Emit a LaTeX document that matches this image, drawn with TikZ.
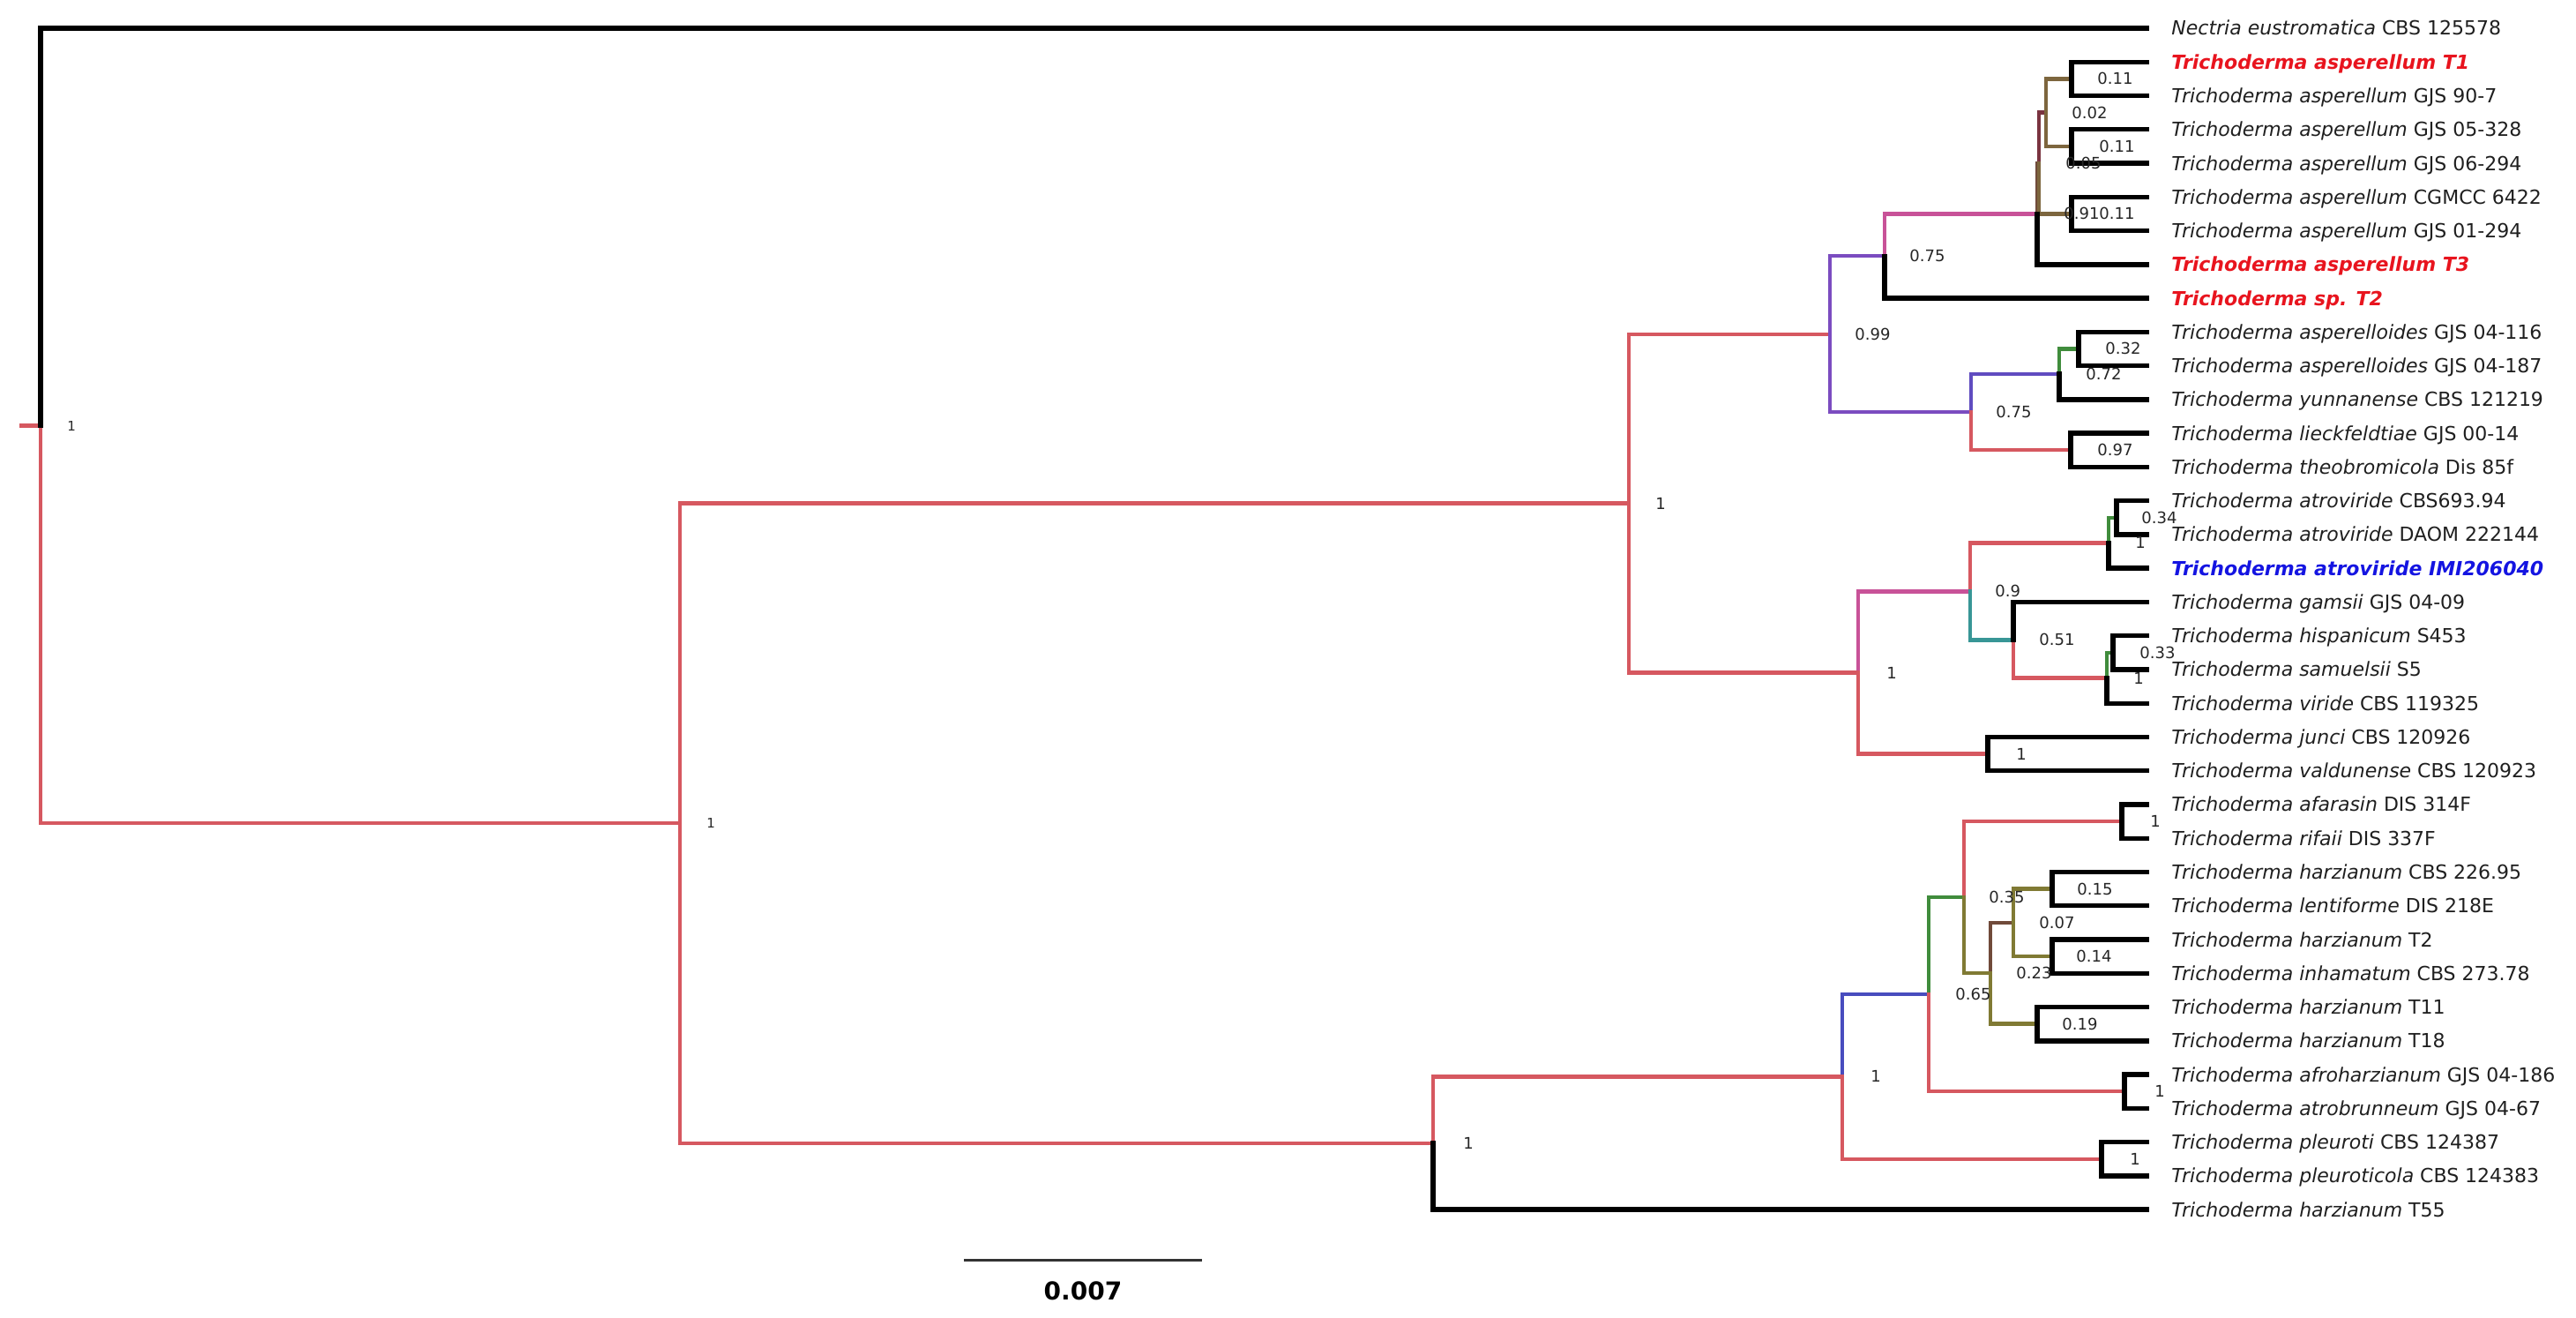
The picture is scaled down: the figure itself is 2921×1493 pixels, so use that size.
\documentclass[tikz,border=0pt]{standalone}
\usepackage{fontspec}
\setmainfont{DejaVu Sans}
\definecolor{tred}{RGB}{214,88,96}
\definecolor{tpurple}{RGB}{123,76,192}
\definecolor{tbpurple}{RGB}{96,76,192}
\definecolor{tmag}{RGB}{200,82,152}
\definecolor{tteal}{RGB}{56,150,150}
\definecolor{tgreen}{RGB}{64,140,60}
\definecolor{tblue}{RGB}{72,76,190}
\definecolor{tolive}{RGB}{128,122,52}
\definecolor{tbrown}{RGB}{112,74,58}
\definecolor{tmaroon}{RGB}{122,52,64}
\definecolor{tolbr}{RGB}{125,102,62}
\definecolor{hlred}{RGB}{232,20,30}
\definecolor{hlblue}{RGB}{20,20,225}
\begin{document}
\begin{tikzpicture}[x=0.5pt,y=-0.5pt,
  br/.style={line width=2.2pt,line cap=rect,line join=miter},
  lf/.style={line width=2.7pt,line cap=rect,line join=miter,black},
  leaf/.style={anchor=west,inner sep=0pt,text height=8pt,text depth=0pt,font=\fontsize{11}{13}\selectfont,text=black!88},
  hlr/.style={leaf,font=\fontsize{11}{13}\selectfont\bfseries\itshape,text=hlred},
  hlb/.style={leaf,font=\fontsize{11}{13}\selectfont\bfseries\itshape,text=hlblue},
  sup/.style={anchor=west,inner sep=0pt,text height=6.5pt,text depth=0pt,font=\fontsize{9}{11}\selectfont,text=black!85},
  supsm/.style={sup,text height=5.5pt,font=\fontsize{7.5}{9}\selectfont}]
\useasboundingbox (0,0) rectangle (2921,1493);

% leaf tips
\foreach \i in {0,...,35} \coordinate (t\i) at (2434,{32+38.26*\i});

% internal nodes
\coordinate (stub) at (24,482.6);
\coordinate (root) at (46,482.6);
\coordinate (A) at (771,933.2);
\coordinate (B) at (1847,570.63);
\coordinate (C) at (2075,378.73);
\coordinate (D) at (2137,290.26);
\coordinate (E) at (2310,242.43);
\coordinate (FG) at (2312,185.04);
\coordinate (F) at (2320,127.65);
\coordinate (F1) at (2349,89.39);
\coordinate (F2) at (2349,165.91);
\coordinate (G) at (2349,242.43);
\coordinate (LL) at (2235,467.21);
\coordinate (AS) at (2335,424.17);
\coordinate (AP) at (2357,395.47);
\coordinate (LI) at (2348,510.25);
\coordinate (H) at (2107,762.53);
\coordinate (I) at (2234,670.47);
\coordinate (J) at (2391,615.47);
\coordinate (L) at (2400,586.77);
\coordinate (K) at (2283,725.46);
\coordinate (M) at (2389,768.5);
\coordinate (N) at (2396,739.81);
\coordinate (O) at (2254,854.59);
\coordinate (P) at (1625,1295.78);
\coordinate (Q) at (2089,1220.45);
\coordinate (R) at (2187,1127.2);
\coordinate (T) at (2227,1017.2);
\coordinate (V) at (2406,931.11);
\coordinate (W) at (2257,1103.28);
\coordinate (Y) at (2283,1045.89);
\coordinate (X) at (2327,1007.63);
\coordinate (Z) at (2327,1084.15);
\coordinate (AA) at (2310,1160.67);
\coordinate (U) at (2409,1237.19);
\coordinate (S) at (2383,1313.71);

% coloured branches
\draw[br,tred] (stub) -- (root);
\draw[br,tred] (root) |- (A);
\draw[br,tred] (A) |- (B);
\draw[br,tred] (A) |- (P);
\draw[br,tred] (B) |- (C);
\draw[br,tred] (B) |- (H);
\draw[br,tpurple] (C) |- (D);
\draw[br,tpurple] (C) |- (LL);
\draw[br,tmag] (D) |- (E);
\draw[br,tbrown] (E) |- (FG);
\draw[br,tmaroon] (FG) |- (F);
\draw[br,tolbr] (FG) |- (G);
\draw[br,tolbr] (F) |- (F1);
\draw[br,tolbr] (F) |- (F2);
\draw[br,tbpurple] (LL) |- (AS);
\draw[br,tred] (LL) |- (LI);
\draw[br,tgreen] (AS) |- (AP);
\draw[br,tmag] (H) |- (I);
\draw[br,tred] (H) |- (O);
\draw[br,tred] (I) |- (J);
\draw[br,tteal] (I) |- (K);
\draw[br,tgreen] (J) |- (L);
\draw[br,tred] (K) |- (M);
\draw[br,tgreen] (M) |- (N);
\draw[br,tred] (P) |- (Q);
\draw[br,tblue] (Q) |- (R);
\draw[br,tred] (Q) |- (S);
\draw[br,tgreen] (R) |- (T);
\draw[br,tred] (R) |- (U);
\draw[br,tred] (T) |- (V);
\draw[br,tolive] (T) |- (W);
\draw[br,tbrown] (W) |- (Y);
\draw[br,tolive] (W) |- (AA);
\draw[br,tolive] (Y) |- (X);
\draw[br,tolive] (Y) |- (Z);

% black branches to leaves
\draw[lf] (root) |- (t0);
\draw[lf] (F1) |- (t1) (F1) |- (t2);
\draw[lf] (F2) |- (t3) (F2) |- (t4);
\draw[lf] (G) |- (t5) (G) |- (t6);
\draw[lf] (E) |- (t7);
\draw[lf] (D) |- (t8);
\draw[lf] (AP) |- (t9) (AP) |- (t10);
\draw[lf] (AS) |- (t11);
\draw[lf] (LI) |- (t12) (LI) |- (t13);
\draw[lf] (L) |- (t14) (L) |- (t15);
\draw[lf] (J) |- (t16);
\draw[lf] (K) |- (t17);
\draw[lf] (N) |- (t18) (N) |- (t19);
\draw[lf] (M) |- (t20);
\draw[lf] (O) |- (t21) (O) |- (t22);
\draw[lf] (V) |- (t23) (V) |- (t24);
\draw[lf] (X) |- (t25) (X) |- (t26);
\draw[lf] (Z) |- (t27) (Z) |- (t28);
\draw[lf] (AA) |- (t29) (AA) |- (t30);
\draw[lf] (U) |- (t31) (U) |- (t32);
\draw[lf] (S) |- (t33) (S) |- (t34);
\draw[lf] (P) |- (t35);

% support values
\node[supsm] (sroot) at ([xshift=15pt]root) {1};
\node[supsm] (sA) at ([xshift=15pt]A) {1};
\node[sup] (sB) at ([xshift=15pt]B) {1};
\node[sup] (sC) at ([xshift=14pt]C) {0.99};
\node[sup] (sD) at ([xshift=14pt]D) {0.75};
\node[sup] (sE) at ([xshift=15pt]E) {0.91};
\node[sup] (sFG) at ([xshift=15pt]FG) {0.05};
\node[sup] (sF) at ([xshift=14.5pt]F) {0.02};
\node[sup] (sF1) at ([xshift=14.5pt]F1) {0.11};
\node[sup] (sF2) at ([xshift=15.5pt]F2) {0.11};
\node[sup] (sG) at ([xshift=15.5pt]G) {0.11};
\node[sup] (sLL) at ([xshift=14pt]LL) {0.75};
\node[sup] (sAS) at ([xshift=15pt]AS) {0.72};
\node[sup] (sAP) at ([xshift=15pt]AP) {0.32};
\node[sup] (sLI) at ([xshift=15pt]LI) {0.97};
\node[sup] (sH) at ([xshift=16pt]H) {1};
\node[sup] (sI) at ([xshift=14pt]I) {0.9};
\node[sup] (sJ) at ([xshift=15pt]J) {1};
\node[sup] (sL) at ([xshift=14pt]L) {0.34};
\node[sup] (sK) at ([xshift=14.5pt]K) {0.51};
\node[sup] (sM) at ([xshift=15pt]M) {1};
\node[sup] (sN) at ([xshift=15pt]N) {0.33};
\node[sup] (sO) at ([xshift=16pt]O) {1};
\node[sup] (sP) at ([xshift=17pt]P) {1};
\node[sup] (sQ) at ([xshift=16pt]Q) {1};
\node[sup] (sR) at ([xshift=15pt]R) {0.65};
\node[sup] (sT) at ([xshift=14pt]T) {0.35};
\node[sup] (sW) at ([xshift=14.5pt]W) {0.23};
\node[sup] (sY) at ([xshift=14.5pt]Y) {0.07};
\node[sup] (sX) at ([xshift=14pt]X) {0.15};
\node[sup] (sZ) at ([xshift=13.5pt]Z) {0.14};
\node[sup] (sAA) at ([xshift=14pt]AA) {0.19};
\node[sup] (sV) at ([xshift=16pt]V) {1};
\node[sup] (sU) at ([xshift=17pt]U) {1};
\node[sup] (sS) at ([xshift=16pt]S) {1};

% leaf labels
\node[leaf] (l0) at ([xshift=14pt]t0) {\textit{Nectria eustromatica} CBS 125578};
\node[hlr] (l1) at ([xshift=14pt]t1) {Trichoderma asperellum T1};
\node[leaf] (l2) at ([xshift=14pt]t2) {\textit{Trichoderma asperellum} GJS 90-7};
\node[leaf] (l3) at ([xshift=14pt]t3) {\textit{Trichoderma asperellum} GJS 05-328};
\node[leaf] (l4) at ([xshift=14pt]t4) {\textit{Trichoderma asperellum} GJS 06-294};
\node[leaf] (l5) at ([xshift=14pt]t5) {\textit{Trichoderma asperellum} CGMCC 6422};
\node[leaf] (l6) at ([xshift=14pt]t6) {\textit{Trichoderma asperellum} GJS 01-294};
\node[hlr] (l7) at ([xshift=14pt]t7) {Trichoderma asperellum T3};
\node[hlr] (l8) at ([xshift=14pt]t8) {Trichoderma sp. T2};
\node[leaf] (l9) at ([xshift=14pt]t9) {\textit{Trichoderma asperelloides} GJS 04-116};
\node[leaf] (l10) at ([xshift=14pt]t10) {\textit{Trichoderma asperelloides} GJS 04-187};
\node[leaf] (l11) at ([xshift=14pt]t11) {\textit{Trichoderma yunnanense} CBS 121219};
\node[leaf] (l12) at ([xshift=14pt]t12) {\textit{Trichoderma lieckfeldtiae} GJS 00-14};
\node[leaf] (l13) at ([xshift=14pt]t13) {\textit{Trichoderma theobromicola} Dis 85f};
\node[leaf] (l14) at ([xshift=14pt]t14) {\textit{Trichoderma atroviride} CBS693.94};
\node[leaf] (l15) at ([xshift=14pt]t15) {\textit{Trichoderma atroviride} DAOM 222144};
\node[hlb] (l16) at ([xshift=14pt]t16) {Trichoderma atroviride IMI206040};
\node[leaf] (l17) at ([xshift=14pt]t17) {\textit{Trichoderma gamsii} GJS 04-09};
\node[leaf] (l18) at ([xshift=14pt]t18) {\textit{Trichoderma hispanicum} S453};
\node[leaf] (l19) at ([xshift=14pt]t19) {\textit{Trichoderma samuelsii} S5};
\node[leaf] (l20) at ([xshift=14pt]t20) {\textit{Trichoderma viride} CBS 119325};
\node[leaf] (l21) at ([xshift=14pt]t21) {\textit{Trichoderma junci} CBS 120926};
\node[leaf] (l22) at ([xshift=14pt]t22) {\textit{Trichoderma valdunense} CBS 120923};
\node[leaf] (l23) at ([xshift=14pt]t23) {\textit{Trichoderma afarasin} DIS 314F};
\node[leaf] (l24) at ([xshift=14pt]t24) {\textit{Trichoderma rifaii} DIS 337F};
\node[leaf] (l25) at ([xshift=14pt]t25) {\textit{Trichoderma harzianum} CBS 226.95};
\node[leaf] (l26) at ([xshift=14pt]t26) {\textit{Trichoderma lentiforme} DIS 218E};
\node[leaf] (l27) at ([xshift=14pt]t27) {\textit{Trichoderma harzianum} T2};
\node[leaf] (l28) at ([xshift=14pt]t28) {\textit{Trichoderma inhamatum} CBS 273.78};
\node[leaf] (l29) at ([xshift=14pt]t29) {\textit{Trichoderma harzianum} T11};
\node[leaf] (l30) at ([xshift=14pt]t30) {\textit{Trichoderma harzianum} T18};
\node[leaf] (l31) at ([xshift=14pt]t31) {\textit{Trichoderma afroharzianum} GJS 04-186};
\node[leaf] (l32) at ([xshift=14pt]t32) {\textit{Trichoderma atrobrunneum} GJS 04-67};
\node[leaf] (l33) at ([xshift=14pt]t33) {\textit{Trichoderma pleuroti} CBS 124387};
\node[leaf] (l34) at ([xshift=14pt]t34) {\textit{Trichoderma pleuroticola} CBS 124383};
\node[leaf] (l35) at ([xshift=14pt]t35) {\textit{Trichoderma harzianum} T55};

% scale bar
\coordinate (sb1) at (1093,1428);
\coordinate (sb2) at (1363,1428);
\draw[line width=1.5pt,black!80] (sb1) -- (sb2);
\node[inner sep=0pt,font=\fontsize{14}{16}\selectfont\bfseries] (sbl) at (1228,1463) {0.007};
\end{tikzpicture}
\end{document}
